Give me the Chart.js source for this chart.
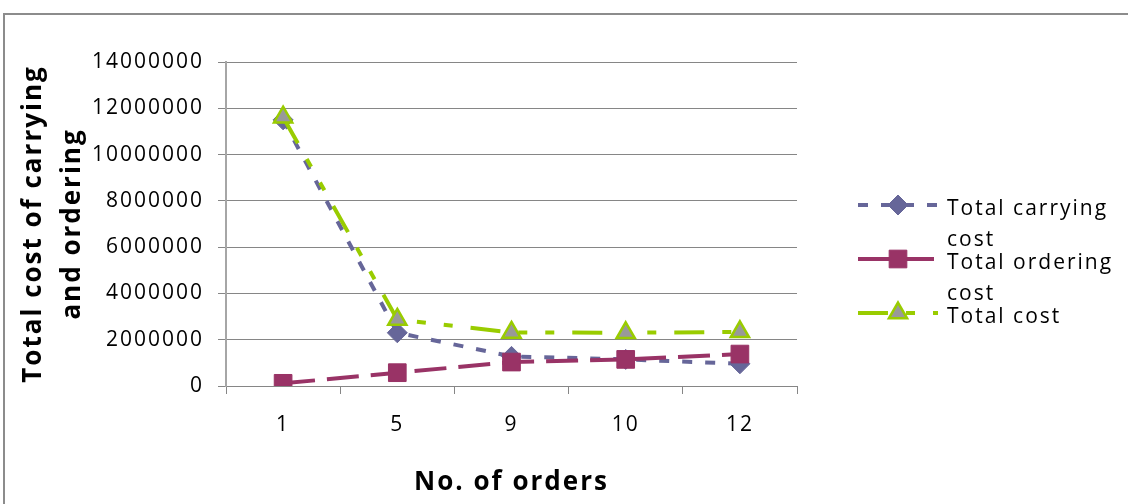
<!DOCTYPE html>
<html>
<head>
<meta charset="utf-8">
<script src="https://cdn.jsdelivr.net/npm/chart.js@4/dist/chart.umd.min.js"></script>
<style>
  html, body { margin: 0; padding: 0; background: #fff; }
  #wrap { position: relative; width: 1128px; height: 504px; overflow: hidden; }
  #frame {
    position: absolute; left: 3px; top: 13px; width: 1300px; height: 700px;
    border-left: 2px solid #8c8c8c; border-top: 2px solid #8c8c8c;
  }
  #chart { position: absolute; left: 0; top: 0; }
</style>
</head>
<body>
<div id="wrap">
  <div id="frame"></div>
  <canvas id="chart" width="1128" height="504"></canvas>
</div>
<script>
const orderCounts = ['1', '5', '9', '10', '12'];
const carryingCost = [11500000, 2300000, 1280000, 1150000, 960000];
const orderingCost = [115000, 575000, 1035000, 1150000, 1380000];
const totalCost = [11615000, 2875000, 2315000, 2300000, 2340000];
const yMin = 0;
const yMax = 14000000;
const yStep = 2000000;

const FONT = "'Open Sans', 'Liberation Sans', sans-serif";
const SPACING = '2px';

// Excel-style wide text: applied to every string the chart draws
const spacedText = {
  id: 'spacedText',
  beforeLayout: chart => { chart.ctx.letterSpacing = SPACING; },
  beforeDraw: chart => { chart.ctx.letterSpacing = SPACING; }
};

function wrapWords(ctx, text, maxWidth) {
  const words = text.split(' ');
  const lines = [];
  let line = '';
  for (const w of words) {
    const test = line ? line + ' ' + w : w;
    if (line && ctx.measureText(test).width > maxWidth) {
      lines.push(line);
      line = w;
    } else {
      line = test;
    }
  }
  if (line) lines.push(line);
  return lines;
}

// legend on the right, labels wrap like the spreadsheet legend does
const sideLegend = {
  id: 'sideLegend',
  afterDraw: chart => {
    const ctx = chart.ctx;
    ctx.save();
    ctx.letterSpacing = SPACING;
    ctx.font = '21px ' + FONT;
    ctx.textBaseline = 'alphabetic';
    ctx.textAlign = 'left';
    chart.data.datasets.forEach((ds, i) => {
      const y = 205 + i * 54;
      ctx.save();
      ctx.strokeStyle = ds.borderColor;
      ctx.lineWidth = ds.borderWidth;
      ctx.setLineDash(ds.borderDash || []);
      ctx.beginPath();
      ctx.moveTo(858, y);
      ctx.lineTo(938, y);
      ctx.stroke();
      ctx.setLineDash([]);
      ctx.fillStyle = ds.pointBackgroundColor;
      ctx.strokeStyle = ds.pointBorderColor;
      ctx.lineWidth = ds.pointBorderWidth;
      Chart.helpers.drawPoint(ctx, {
        pointStyle: ds.pointStyle,
        radius: ds.pointRadius,
        rotation: 0,
        borderWidth: ds.pointBorderWidth
      }, 898, y);
      ctx.restore();

      ctx.fillStyle = '#000';
      wrapWords(ctx, ds.label, 172).forEach((line, j) => {
        ctx.fillText(line, 947, y + 10 + j * 31);
      });
    });
    ctx.restore();
  }
};

const tickFont = { family: FONT, size: 21 };
const titleFont = { family: FONT, size: 26, weight: 'bold' };

new Chart(document.getElementById('chart'), {
  type: 'line',
  data: {
    labels: orderCounts,
    datasets: [
      {
        label: 'Total carrying cost',
        data: carryingCost,
        borderColor: '#666699',
        borderWidth: 4,
        borderDash: [10, 13],
        pointStyle: 'rectRot',
        pointRadius: 10,
        pointBackgroundColor: '#666699',
        pointBorderColor: '#666699',
        pointBorderWidth: 1,
        tension: 0,
        fill: false,
        order: 3
      },
      {
        label: 'Total ordering cost',
        data: orderingCost,
        borderColor: '#993366',
        borderWidth: 4,
        borderDash: [32, 12],
        pointStyle: 'rect',
        pointRadius: 12.5,
        pointBackgroundColor: '#993366',
        pointBorderColor: '#993366',
        pointBorderWidth: 1,
        tension: 0,
        fill: false,
        order: 2
      },
      {
        label: 'Total cost',
        data: totalCost,
        borderColor: '#99CC00',
        borderWidth: 4,
        borderDash: [30, 18, 9, 18, 9, 18],
        pointStyle: 'triangle',
        pointRadius: 10.5,
        pointBackgroundColor: '#999999',
        pointBorderColor: '#99CC00',
        pointBorderWidth: 2.5,
        tension: 0,
        fill: false,
        order: 1
      }
    ]
  },
  options: {
    responsive: false,
    animation: false,
    layout: { padding: { left: 10, right: 331, top: 62, bottom: 0 } },
    scales: {
      x: {
        offset: true,
        grid: {
          offset: true,
          drawOnChartArea: false,
          tickLength: 8,
          color: '#868686',
          lineWidth: 1
        },
        border: { display: true, color: '#868686', width: 1 },
        ticks: {
          color: '#000',
          font: tickFont,
          padding: 18,
          maxRotation: 0,
          autoSkip: false
        },
        title: {
          display: true,
          text: 'No. of orders',
          color: '#000',
          font: titleFont,
          padding: { top: 0, bottom: 6 }
        },
        afterFit: scale => { scale.height = 118; }
      },
      y: {
        min: yMin,
        max: yMax,
        ticks: {
          stepSize: yStep,
          color: '#000',
          font: tickFont,
          padding: 14,
          callback: v => String(v)
        },
        grid: { color: '#868686', lineWidth: 1, tickLength: 8 },
        border: { display: true, color: '#a6a6a6', width: 2 },
        title: {
          display: true,
          text: ['Total cost of carrying', 'and ordering'],
          color: '#000',
          font: { family: FONT, size: 26, weight: 'bold', lineHeight: 1.5 },
          padding: { top: 4, bottom: 0 }
        },
        afterFit: scale => { scale.width = 216; }
      }
    },
    plugins: {
      legend: { display: false },
      tooltip: { enabled: false }
    }
  },
  plugins: [spacedText, sideLegend]
});
</script>
</body>
</html>
